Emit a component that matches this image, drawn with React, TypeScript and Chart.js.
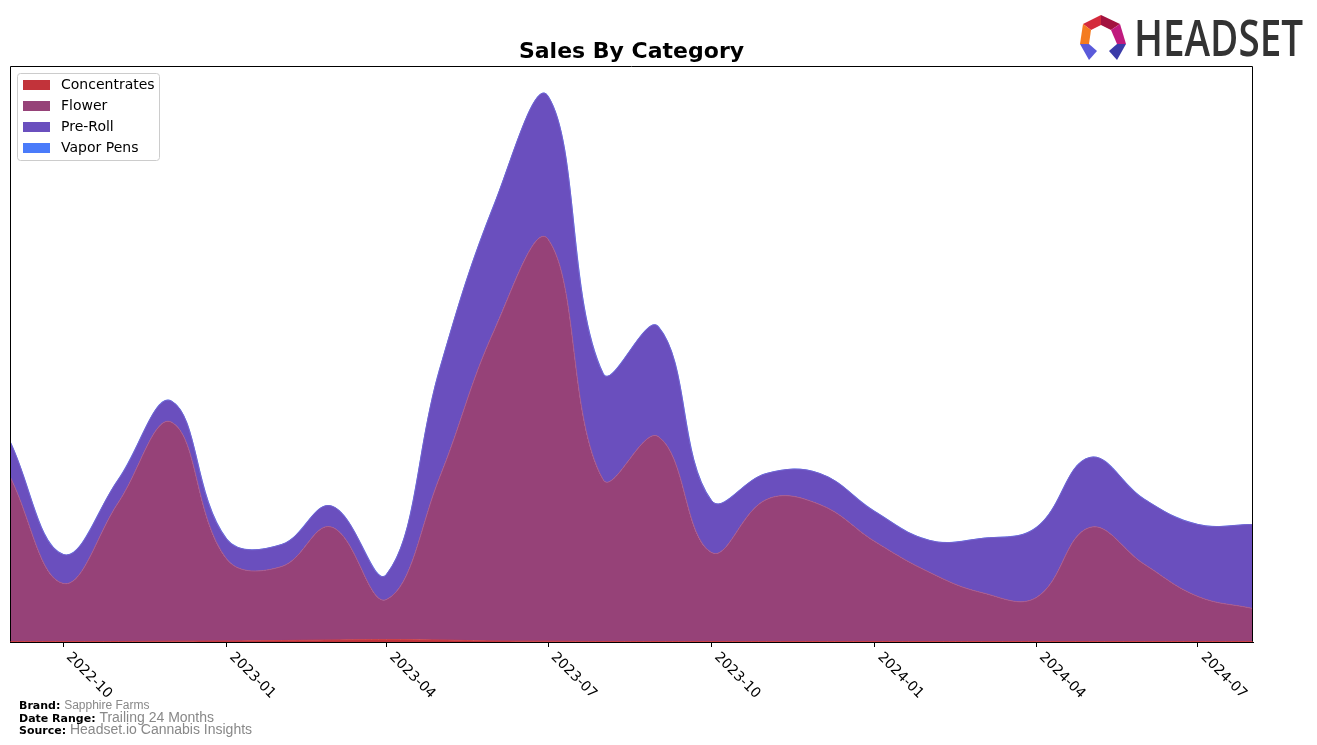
import React, { useEffect, useRef } from "react";
import { Chart, registerables } from "chart.js";

Chart.register(...registerables);

const months = [
  "2022-09", "2022-10", "2022-11", "2022-12", "2023-01", "2023-02", "2023-03", "2023-04",
  "2023-05", "2023-06", "2023-07", "2023-08", "2023-09", "2023-10", "2023-11", "2023-12",
  "2024-01", "2024-02", "2024-03", "2024-04", "2024-05", "2024-06", "2024-07", "2024-08",
];
const concentrates = [0.5, 0.5, 0.5, 0.8, 1, 1.5, 2, 2.5, 2, 1, 0.8, 0.5, 0.5, 0.5, 0.5, 0.5, 0.5, 0.5, 0.5, 0.5, 0.5, 0.5, 0.5, 0.5];
const flower = [165, 58, 139, 219, 82, 74, 113, 40, 163, 312, 402, 162, 205, 89, 142, 137, 100, 69, 49, 44, 114, 77, 45, 33];
const preRoll = [35, 29, 23, 21, 20, 22, 21, 25, 108, 126, 143, 106, 110, 52, 26, 31, 30, 32, 54, 70, 70, 65, 72, 84];
const vaporPens = [0, 0, 0, 0, 0, 0, 0, 0, 0, 0, 0, 0, 0, 0, 0, 0, 0, 0, 0, 0, 0, 0, 0, 0];
const tickLabels = ["2022-10", "2023-01", "2023-04", "2023-07", "2023-10", "2024-01", "2024-04", "2024-07"];
const seriesNames = ["Concentrates", "Flower", "Pre-Roll", "Vapor Pens"];
const seriesColors = ["#C2333A", "#964278", "#6A4FBE", "#4A7BFA"];
const lineColors = ["#CC4048", "#A85A8E", "#7462CC", "#6A92FF"];
const yMax = 576;

const toDay = (s: string) => {
  const [y, m] = s.split("-").map(Number);
  return Date.UTC(y, m - 1, 1) / 86400000;
};

const FONT = "'DejaVu Sans', sans-serif";

export default function App() {
  const ref = useRef<HTMLCanvasElement | null>(null);

  useEffect(() => {
    if (!ref.current) return;
    const xs = months.map(toDay);
    const seriesData = [concentrates, flower, preRoll, vaporPens];

    const overlay = {
      id: "overlay",
      afterDraw(chart: any) {
        const { ctx, chartArea: a, scales } = chart;
        ctx.save();
        // frame
        ctx.strokeStyle = "#000";
        ctx.lineWidth = 1;
        const l = Math.round(a.left) + 0.5;
        const t = Math.round(a.top) + 0.5;
        const r = Math.round(a.right) - 0.5;
        const b = Math.round(a.bottom) - 0.5;
        ctx.beginPath();
        ctx.moveTo(l, b);
        ctx.lineTo(l, t);
        ctx.lineTo(r, t);
        ctx.lineTo(r, b);
        ctx.stroke();

        // tick labels, rotated clockwise
        ctx.fillStyle = "#000";
        ctx.font = `14px ${FONT}`;
        ctx.textAlign = "left";
        ctx.textBaseline = "top";
        const xs2 = scales.x;
        xs2.ticks.forEach((tk: any, i: number) => {
          const px = xs2.getPixelForValue(tk.value);
          ctx.save();
          ctx.translate(px + 10, a.bottom + 8);
          ctx.rotate(Math.PI / 4);
          ctx.fillText(tickLabels[i], 0, 0);
          ctx.restore();
        });

        // title
        ctx.font = `bold 22px ${FONT}`;
        ctx.textAlign = "center";
        ctx.textBaseline = "alphabetic";
        ctx.fillText("Sales By Category", (a.left + a.right) / 2, 58);

        // legend
        const lx = 17.5, ly = 73.5, lw = 142, lh = 87;
        ctx.fillStyle = "rgba(255,255,255,0.85)";
        ctx.strokeStyle = "#cccccc";
        ctx.beginPath();
        if ((ctx as any).roundRect) (ctx as any).roundRect(lx, ly, lw, lh, 3);
        else ctx.rect(lx, ly, lw, lh);
        ctx.fill();
        ctx.stroke();
        ctx.font = `14px ${FONT}`;
        ctx.textAlign = "left";
        ctx.textBaseline = "middle";
        seriesNames.forEach((name, i) => {
          const cy = 85 + i * 21;
          ctx.fillStyle = seriesColors[i];
          ctx.fillRect(23, cy - 5, 27, 10);
          ctx.fillStyle = "#000";
          ctx.fillText(name, 61, cy + 0.5);
        });
        ctx.restore();
      },
    };

    const chart = new Chart(ref.current, {
      type: "line",
      data: {
        datasets: seriesNames.map((name, i) => ({
          label: name,
          data: xs.map((x, j) => ({ x, y: seriesData[i][j] })),
          backgroundColor: seriesColors[i],
          borderColor: lineColors[i],
          borderWidth: i === 3 ? 1.2 : 1,
          fill: i === 0 ? "origin" : "-1",
          pointRadius: 0,
          tension: 0.4,
        })),
      },
      options: {
        animation: false,
        responsive: false,
        devicePixelRatio: 1,
        layout: { padding: { left: 10, top: 66, right: 64, bottom: 98 } },
        plugins: {
          legend: { display: false },
          title: { display: false },
          tooltip: { enabled: false },
        },
        scales: {
          x: {
            type: "linear",
            min: xs[0],
            max: xs[xs.length - 1],
            afterBuildTicks: (scale: any) => {
              scale.ticks = tickLabels.map((s) => ({ value: toDay(s) }));
            },
            ticks: { display: false },
            grid: {
              display: true,
              drawOnChartArea: false,
              drawTicks: true,
              tickLength: 5,
              tickColor: "#000",
              tickWidth: 1,
            },
            border: { display: true, color: "#000", width: 1 },
          },
          y: {
            stacked: true,
            min: 0,
            max: yMax,
            display: false,
          },
        },
      },
      plugins: [overlay],
    });
    return () => chart.destroy();
  }, []);

  const labelStyle: React.CSSProperties = { fontFamily: FONT, fontWeight: "bold", fontSize: 11, color: "#000" };
  const valueStyle: React.CSSProperties = { fontFamily: "'Liberation Sans', Arial, sans-serif", color: "#888" };
  const lineStyle = (top: number): React.CSSProperties => ({
    position: "absolute", left: 19, top, height: 13, lineHeight: "13px", whiteSpace: "nowrap",
  });

  return (
    <div style={{ position: "absolute", left: 0, top: 0, width: 1317, height: 745, background: "#fff", overflow: "hidden" }}>
      <canvas ref={ref} width={1317} height={745} style={{ position: "absolute", left: 0, top: 0, width: 1317, height: 745 }} />
      <svg style={{ position: "absolute", left: 0, top: 0 }} width={1317} height={80}>
        <polygon points="1083,24 1101,15 1101,25 1091,30" fill="#D42A3C" />
        <polygon points="1101,15 1120,24 1111,30 1101,25" fill="#A3123F" />
        <polygon points="1120,24 1126,44 1117,44 1111,30" fill="#C01A7E" />
        <polygon points="1083,24 1091,30 1089,44 1080,44" fill="#F47B20" />
        <polygon points="1080,44 1089,44 1097,51 1089,60" fill="#5A5ADA" />
        <polygon points="1117,44 1126,44 1117,60 1109,51" fill="#3B3BA8" />
        <text x={1134} y={56} fontFamily="'Open Sans', 'DejaVu Sans', sans-serif" fontWeight={600} fontSize={50} fill="#333" textLength={169} lengthAdjust="spacingAndGlyphs">HEADSET</text>
      </svg>
      <div style={lineStyle(697)}>
        <span style={labelStyle}>Brand: </span>
        <span style={{ ...valueStyle, fontSize: 12 }}>Sapphire Farms</span>
      </div>
      <div style={lineStyle(709.5)}>
        <span style={labelStyle}>Date Range: </span>
        <span style={{ ...valueStyle, fontSize: 14 }}>Trailing 24 Months</span>
      </div>
      <div style={lineStyle(722)}>
        <span style={labelStyle}>Source: </span>
        <span style={{ ...valueStyle, fontSize: 14 }}>Headset.io Cannabis Insights</span>
      </div>
    </div>
  );
}
